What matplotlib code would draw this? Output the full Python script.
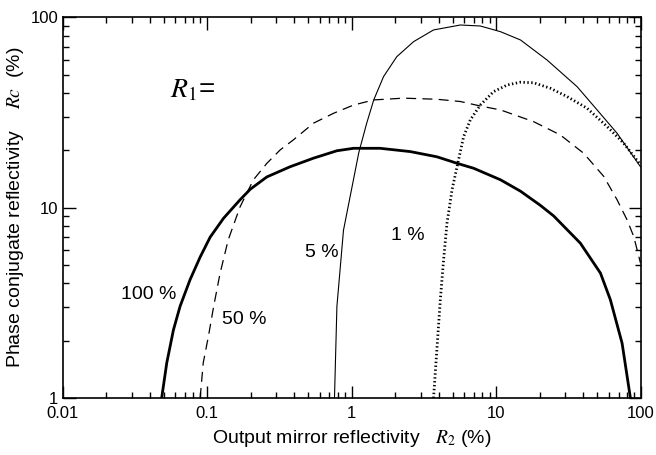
import numpy as np
import matplotlib.pyplot as plt
from matplotlib.ticker import LogLocator, FuncFormatter, NullFormatter

plt.rcParams['font.family'] = ['Liberation Sans', 'DejaVu Sans']
plt.rcParams['mathtext.fontset'] = 'stix'

# R1 = 100 %  (жирная сплошная)
x100 = [0.0485, 0.0526, 0.0585, 0.065, 0.0762, 0.0895, 0.105, 0.130,
        0.169, 0.199, 0.259, 0.375, 0.545, 0.79, 1.03, 1.57, 2.54, 3.88,
        5.35, 6.97, 10.7, 14.7, 20.1, 24.9, 38.1, 52.5, 61.5, 74.1, 84.6]
y100 = [1.0, 1.53, 2.28, 3.03, 4.18, 5.5, 7.0, 8.8,
        11.0, 12.5, 14.5, 16.4, 18.2, 19.9, 20.5, 20.5, 19.7, 18.5,
        17.1, 16.1, 14.0, 12.2, 10.3, 9.05, 6.51, 4.53, 3.28, 1.94, 1.0]

# R1 = 50 %  (штрих)
x50 = [0.0895, 0.094, 0.102, 0.111, 0.123, 0.140, 0.169, 0.209, 0.259, 0.320,
       0.395, 0.545, 0.748, 1.03, 1.42, 2.28, 3.88, 5.64, 7.75, 10.7,
       18.1, 27.7, 40.2, 55.3, 68.4, 80.2, 89.2, 99.3]
y50 = [1.0, 1.53, 2.10, 3.03, 4.53, 6.78, 10.1, 14.0, 17.1, 20.1,
       22.7, 27.8, 31.3, 34.6, 36.8, 37.6, 37.1, 36.1, 34.2, 32.6,
       28.3, 24.1, 19.3, 14.6, 11.0, 8.63, 7.05, 5.12]

# R1 = 5 %  (тонкая сплошная)
x5 = [0.76, 0.79, 0.877, 1.12, 1.27, 1.42, 1.66, 2.05, 2.68, 3.68,
      5.64, 7.75, 10.7, 14.7, 22.4, 36.2, 49.8, 68.4, 99.3]
y5 = [1.0, 3.03, 7.6, 19.5, 27.8, 36.8, 48.8, 62.1, 74.5, 85.8,
      91.1, 90.0, 84.0, 76.0, 59.7, 43.2, 32.6, 24.6, 16.4]

# R1 = 1 %  (точки)
x1 = [3.68, 3.88, 4.10, 4.32, 4.56, 4.94, 5.35, 5.94, 6.61, 7.75,
      9.58, 11.9, 14.7, 18.1, 23.6, 30.9, 42.4, 58.3, 76.0, 99.3]
y1 = [1.0, 1.79, 3.28, 5.32, 8.29, 12.4, 16.4, 23.6, 28.9, 34.6,
      40.7, 44.1, 45.6, 45.3, 42.4, 38.3, 33.3, 26.7, 21.8, 16.8]

fig = plt.figure(figsize=(6.56, 4.55), dpi=100)
ax = fig.add_axes([0.0953, 0.1253, 0.8817, 0.8367])

ax.plot(x100, y100, color='black', lw=2.0, solid_joinstyle='round')
ax.plot(x50, y50, color='black', lw=0.9, linestyle=(0, (8, 5)))
ax.plot(x5, y5, color='black', lw=0.8)
ax.plot(x1, y1, color='black', lw=2.0, linestyle=(0, (0.5, 0.9)))

ax.set_xscale('log')
ax.set_yscale('log')
ax.set_xlim(0.01, 100)
ax.set_ylim(1, 100)

fmt = FuncFormatter(lambda v, p: f'{v:g}')
ax.xaxis.set_major_formatter(fmt)
ax.yaxis.set_major_formatter(fmt)
ax.xaxis.set_minor_formatter(NullFormatter())
ax.yaxis.set_minor_formatter(NullFormatter())
ax.xaxis.set_minor_locator(LogLocator(base=10, subs=np.arange(2, 10)))
ax.yaxis.set_minor_locator(LogLocator(base=10, subs=np.arange(2, 10)))

ax.tick_params(which='both', direction='in', top=True, right=True,
               labelsize=12, width=1.0)
ax.tick_params(which='major', length=9)
ax.tick_params(which='minor', length=4.5)
ax.tick_params(axis='x', which='major', pad=6)
ax.tick_params(axis='y', which='major', pad=3)
for sp in ax.spines.values():
    sp.set_linewidth(1.2)

ax.set_xlabel('Output mirror reflectivity   $R_2$ (%)', fontsize=14, labelpad=5)
ax.set_ylabel('Phase conjugate reflectivity    $Rc$  (%)', fontsize=14, labelpad=3)

ax.text(0.0555, 41.5, '$R_1$=', fontsize=20, va='center', ha='left')
ax.text(0.0397, 3.48, '100 %', fontsize=14, va='center', ha='center')
ax.text(0.180, 2.58, '50 %', fontsize=14, va='center', ha='center')
ax.text(0.625, 5.8, '5 %', fontsize=14, va='center', ha='center')
ax.text(2.46, 7.1, '1 %', fontsize=14, va='center', ha='center')

fig.savefig('out.png', dpi=100)
